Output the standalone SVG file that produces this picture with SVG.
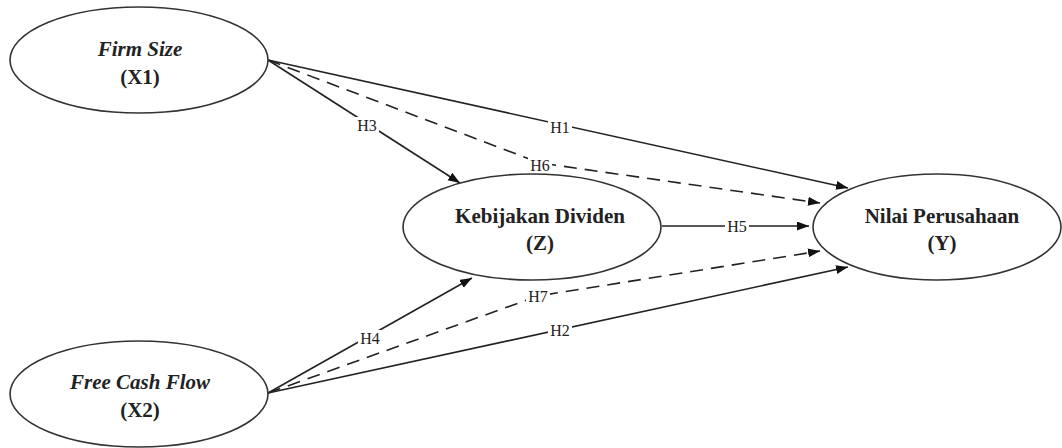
<svg xmlns="http://www.w3.org/2000/svg" width="1062" height="448" viewBox="0 0 1062 448">
<style>
.node{fill:#fff;stroke:#333;stroke-width:1.6}
.nt{font-family:"Liberation Serif","Times New Roman",serif;font-size:21px;font-weight:bold;fill:#222;text-anchor:middle}
.it{font-style:italic}
.edge{fill:none;stroke:#222;stroke-width:1.6}
.dash{stroke-dasharray:13 8}
.lb{font-family:"Liberation Serif","Times New Roman",serif;font-size:16px;fill:#222;text-anchor:middle}
.lbg{fill:#fff}
</style>
<defs>
<marker id="arr" markerWidth="13" markerHeight="10" refX="12" refY="4.5" orient="auto" markerUnits="userSpaceOnUse">
<path d="M0,0 L12,4.5 L0,9 z" fill="#111"/>
</marker>
</defs>
<rect width="1062" height="448" fill="#fff"/>
<g id="connectors">
<path class="edge" d="M268,60 L848,188" marker-end="url(#arr)"/>
<path class="edge dash" d="M268,60 L540,163 L820,203" marker-end="url(#arr)"/>
<path class="edge" d="M268,60 L460,183" marker-end="url(#arr)"/>
<path class="edge" d="M662,226 L809,226" marker-end="url(#arr)"/>
<path class="edge" d="M268,393 L472,278" marker-end="url(#arr)"/>
<path class="edge dash" d="M268,393 L538,296 L820,251" marker-end="url(#arr)"/>
<path class="edge" d="M268,393 L848,267" marker-end="url(#arr)"/>
<g id="edge-labels">
<rect class="lbg" x="548" y="119" width="24" height="16"/><text class="lb" x="560" y="133">H1</text>
<rect class="lbg" x="355" y="117" width="24" height="16"/><text class="lb" x="367" y="131">H3</text>
<rect class="lbg" x="528" y="157" width="24" height="16"/><text class="lb" x="540" y="171">H6</text>
<rect class="lbg" x="725" y="218" width="24" height="16"/><text class="lb" x="737" y="232">H5</text>
<rect class="lbg" x="526" y="288" width="24" height="16"/><text class="lb" x="538" y="302">H7</text>
<rect class="lbg" x="358" y="330" width="24" height="16"/><text class="lb" x="370" y="344">H4</text>
<rect class="lbg" x="548" y="322" width="24" height="16"/><text class="lb" x="560" y="336">H2</text>
</g>
</g>
<g id="X1">
<ellipse class="node" cx="139" cy="60" rx="129" ry="53"/>
<text class="nt it" x="140" y="56">Firm Size</text>
<text class="nt" x="140" y="84">(X1)</text>
</g>
<g id="X2">
<ellipse class="node" cx="139" cy="394" rx="129" ry="53"/>
<text class="nt it" x="140" y="389">Free Cash Flow</text>
<text class="nt" x="140" y="417">(X2)</text>
</g>
<g id="Z">
<ellipse class="node" cx="532" cy="227" rx="129" ry="53"/>
<text class="nt" x="540" y="223">Kebijakan Dividen</text>
<text class="nt" x="540" y="250">(Z)</text>
</g>
<g id="Y">
<ellipse class="node" cx="937" cy="227" rx="124" ry="53"/>
<text class="nt" x="942" y="223">Nilai Perusahaan</text>
<text class="nt" x="942" y="250">(Y)</text>
</g>
</svg>
